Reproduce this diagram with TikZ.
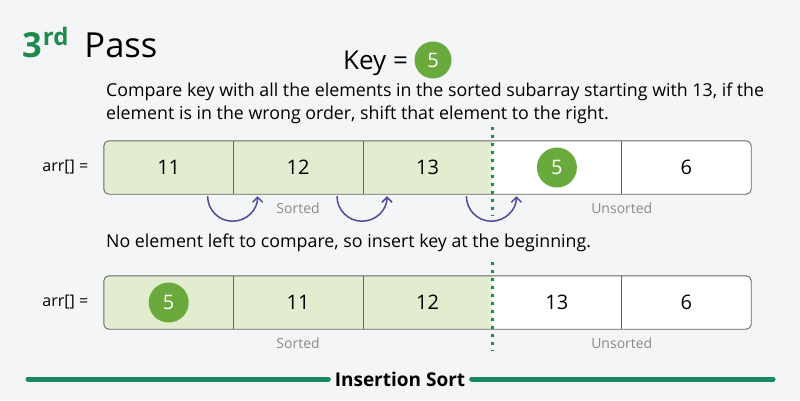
\documentclass[tikz,border=0pt]{standalone}
\usepackage{fontspec}
\setmainfont{Open Sans}
\usetikzlibrary{positioning,arrows.meta,backgrounds}
\definecolor{passgreen}{HTML}{1F8A4C}
\definecolor{keygreen}{HTML}{6AAA3C}
\definecolor{sortfill}{HTML}{E2EDCF}
\definecolor{arcblue}{HTML}{4B4B9E}
\definecolor{bggray}{HTML}{F4F5F7}
\definecolor{lblgray}{HTML}{8A8A8A}
\definecolor{rulegreen}{HTML}{17875E}
\begin{document}
\begin{tikzpicture}[x=1pt,y=-1pt,
	cell/.style={minimum width=129.4pt,minimum height=53pt,inner sep=0,font=\fontsize{20}{22}\selectfont},
	keydot/.style={circle,fill=keygreen,text=white,minimum size=#1,inner sep=0,font=\fontsize{20}{22}\selectfont},
	body/.style={anchor=base west,inner sep=0,font=\fontsize{17.8}{20}\selectfont},
	lbl/.style={text=lblgray,font=\fontsize{14}{16}\selectfont},
	cellline/.style={draw=black!60,line width=0.9pt},
	splitline/.style={draw=passgreen,line width=2.5pt,dash pattern=on 3pt off 5pt},
	shiftarc/.style={draw=arcblue,line width=1.5pt,-{Straight Barb[length=5pt,width=10pt]}}]
\node[anchor=base west,inner sep=0] (pass) at (22,57) {\fontsize{34.5}{38}\selectfont{\bfseries\color{passgreen}3\kern1pt\raisebox{12pt}{\fontsize{24}{26}\selectfont rd}}\hspace{16pt}Pass};
\node[anchor=base west,inner sep=0,font=\fontsize{26}{28}\selectfont] (key) at (343,69) {Key =};
\node[keydot=37pt] (k0) at (433,60) {5};
\node[body] (t1) at (106,96) {Compare key with all the elements in the sorted subarray starting with 13, if the};
\node[body] (t2) at (106,119) {element is in the wrong order, shift that element to the right.};
\node[body] (t3) at (106,247) {No element left to compare, so insert key at the beginning.};
\foreach \v [count=\i] in {11,12,13,{},6}
	\node[cell] (a\i) at ({104+129.4*(\i-0.5)},167.5) {\v};
\foreach \v [count=\i] in {{},11,12,13,6}
	\node[cell] (b\i) at ({104+129.4*(\i-0.5)},302.5) {\v};
\begin{scope}[on background layer]
\fill[bggray] (0,0) rectangle (800,400);
\foreach \r in {a,b}{
	\begin{scope}
	\clip[rounded corners=5pt] (\r1.north west) rectangle (\r5.south east);
	\fill[white] (\r1.north west) rectangle (\r5.south east);
	\fill[sortfill] (\r1.north west) rectangle (\r3.south east);
	\end{scope}
}
\end{scope}
\foreach \r in {a,b}{
	\draw[cellline,rounded corners=5pt] (\r1.north west) rectangle (\r5.south east);
	\foreach \i in {1,2,4}
		\draw[cellline] (\r\i.north east) -- (\r\i.south east);
	\draw[splitline] ([yshift=14pt]\r3.north east) -- ([yshift=-22pt]\r3.south east);
	\node[left=12pt of \r1,font=\fontsize{16}{18}\selectfont] {arr[] =};
	\node[lbl,below=5pt of \r2] {Sorted};
	\node[lbl,below=5pt of \r4.south east] {Unsorted};
}
\node[keydot=40pt] (k1) at (a4) {5};
\node[keydot=40pt] (k2) at (b1) {5};
\foreach \i in {1,2,3}
	\draw[shiftarc] ([xshift=-26pt,yshift=-2pt]a\i.south east) arc[start angle=180,end angle=360,radius=25pt];
\node[font=\bfseries\fontsize{19}{22}\selectfont] (title) at (400,379) {Insertion Sort};
\draw[rulegreen,line width=5pt,line cap=round] (28,379) -- ([xshift=-3pt]title.west);
\draw[rulegreen,line width=5pt,line cap=round] ([xshift=3pt]title.east) -- (773,379);
\end{tikzpicture}
\end{document}
